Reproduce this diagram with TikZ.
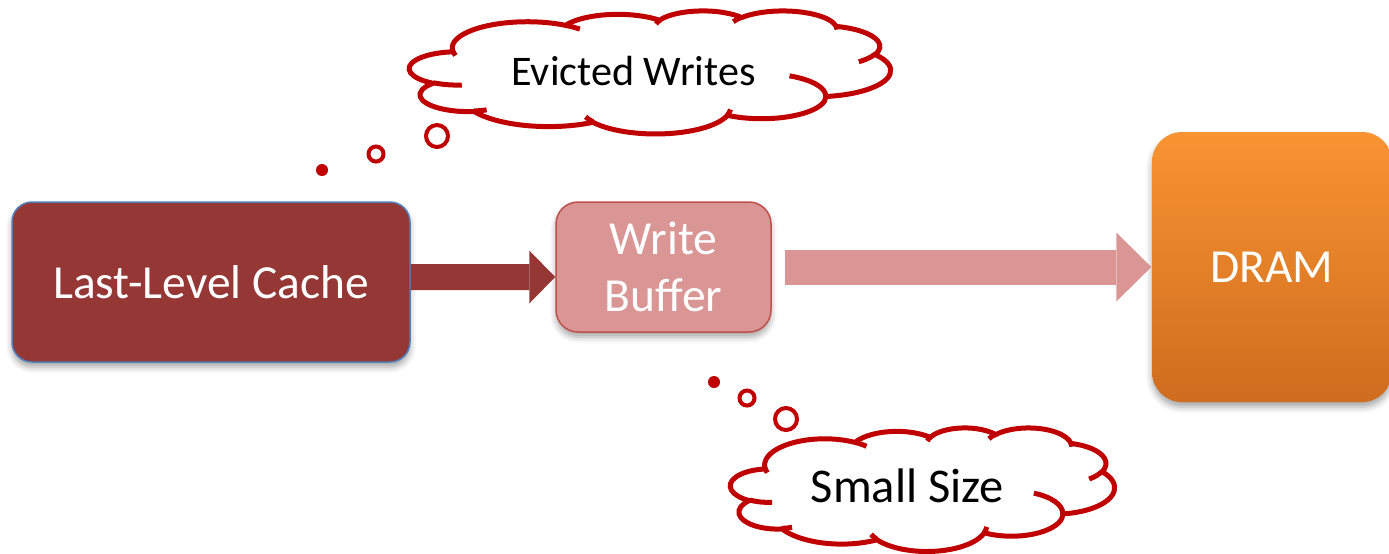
\documentclass[tikz,border=0pt]{standalone}
\usepackage{fontspec}
\setmainfont{Carlito}
\usetikzlibrary{arrows.meta,shadows.blur}
\definecolor{llcred}{RGB}{149,55,53}
\definecolor{llcedge}{RGB}{79,129,189}
\definecolor{bufpink}{RGB}{217,150,148}
\definecolor{bufedge}{RGB}{192,80,77}
\definecolor{dramtop}{RGB}{248,148,50}
\definecolor{drambot}{RGB}{207,108,30}
\definecolor{thinkred}{RGB}{192,0,0}

\tikzset{
  cloudline/.style={draw=thinkred, line width=0.05cm},
  % outline and inner hooks of a thought cloud in a 43.2 x 43.2 box
  thinkcloud/.pic={
    \path[cloudline, fill=white] (3.900,14.370)
      \foreach \w/\h/\s/\d [evaluate={\s as \ta using atan2(\w*sin(\s),\h*cos(\s))},
                            evaluate={\s as \tb using atan2(\w*sin(\s+\d),\h*cos(\s+\d))},
                            evaluate={\s as \da using mod(\tb-\ta+720,360)}] in
        {6.753/9.190/-190.4875/123.7805, 5.333/7.267/-144.1024/89.9452,
         4.365/5.945/-145.8079/99.7230, 4.857/6.595/-130.9861/117.2417,
         5.333/7.273/-78.7089/109.0269, 6.775/9.220/-46.2673/130.2690,
         5.785/7.867/0.6250/114.0333, 6.752/9.215/22.4516/115.1726,
         7.720/10.543/66.2426/75.7110, 4.360/5.918/-274.9421/146.7356,
         4.345/5.945/-246.8285/152.5189}
      { arc[x radius=\w, y radius=\h, start angle=\ta, delta angle=\da] } -- cycle;
    \foreach \px/\py/\w/\h/\s/\d [evaluate={\s as \ta using atan2(\w*sin(\s),\h*cos(\s))},
                                  evaluate={\s as \tb using atan2(\w*sin(\s+\d),\h*cos(\s+\d))},
                                  evaluate={\s as \da using mod(\tb-\ta+720,360)}] in
        {4.693/26.177/4.345/5.945/86.7420/26.4295, 6.928/34.899/4.360/5.918/73.6105/11.4475,
         16.478/39.090/6.752/9.215/137.6242/14.0811, 28.827/34.751/6.752/9.215/6.4533/15.9984,
         34.129/22.954/5.785/7.867/-70.2924/70.9174, 41.798/15.354/5.333/7.273/30.3180/27.7515,
         38.324/5.426/4.857/6.595/-13.7443/14.8589, 29.078/3.952/4.857/6.595/-149.1815/18.1954,
         22.141/4.720/4.365/5.945/-163.4943/17.6864, 14.000/5.192/6.753/9.190/-66.7070/12.3194,
         4.127/15.789/6.753/9.190/157.6544/11.8582}
      \draw[cloudline] (\px,\py) arc[x radius=\w, y radius=\h, start angle=\ta, delta angle=\da];
  }
}

\begin{document}
\begin{tikzpicture}[
    box/.style={rounded corners=0.2cm, text=white, align=center, inner sep=0pt,
      font=\fontsize{13.5}{16.2}\selectfont,
      blur shadow={shadow xshift=0pt, shadow yshift=-0.05cm, shadow blur radius=0.06cm, shadow opacity=35}},
    bubble/.style={circle, draw=thinkred, line width=0.04cm, fill=white, inner sep=0pt},
    bubbledot/.style={circle, fill=thinkred, inner sep=0pt, minimum size=0.12cm}]
  \useasboundingbox (0,0) rectangle (13.89,-5.53);

  \node (llc) at (2.11,-2.82) [box, fill=llcred, draw=llcedge, line width=0.015cm,
    minimum width=3.98cm, minimum height=1.60cm] {Last-Level Cache};
  \node (buf) at (6.635,-2.67) [box, fill=bufpink, draw=bufedge, line width=0.015cm,
    rounded corners=0.22cm, minimum width=2.15cm, minimum height=1.30cm] {Write\\Buffer};
  \node (dram) at (12.72,-2.67) [box, top color=dramtop, bottom color=drambot,
    rounded corners=0.3cm, minimum width=2.40cm, minimum height=2.70cm] {DRAM};

  \draw[line width=0.26cm, llcred, -{Triangle[width=0.53cm, length=0.26cm, line width=0pt]}]
    ([yshift=0.05cm]llc.east) -- ([yshift=-0.10cm]buf.west);
  \draw[line width=0.35cm, bufpink, -{Triangle[width=0.69cm, length=0.35cm, line width=0pt]}]
    ([xshift=0.13cm]buf.east) -- (dram.west);

  \begin{scope}[shift={(4.095,-0.105)}, x=0.111343cm, y=-0.0284722cm]
    \pic {thinkcloud};
  \end{scope}
  \node (evict) at (6.335,-0.85) [anchor=base, font=\fontsize{12}{14}\selectfont] {Evicted Writes};
  \node (e3) at (4.37,-1.36) [bubble, minimum size=0.22cm] {};
  \node (e2) at (3.76,-1.54) [bubble, minimum size=0.15cm] {};
  \node (e1) at (3.22,-1.70) [bubbledot] {};

  \begin{scope}[shift={(7.305,-4.275)}, x=0.0888889cm, y=-0.028588cm]
    \pic {thinkcloud};
  \end{scope}
  \node (small) at (9.075,-5.02) [anchor=base, font=\fontsize{13.8}{16}\selectfont] {Small Size};
  \node (s3) at (7.86,-4.19) [bubble, minimum size=0.22cm] {};
  \node (s2) at (7.47,-3.98) [bubble, minimum size=0.15cm] {};
  \node (s1) at (7.14,-3.82) [bubbledot] {};
\end{tikzpicture}
\end{document}
